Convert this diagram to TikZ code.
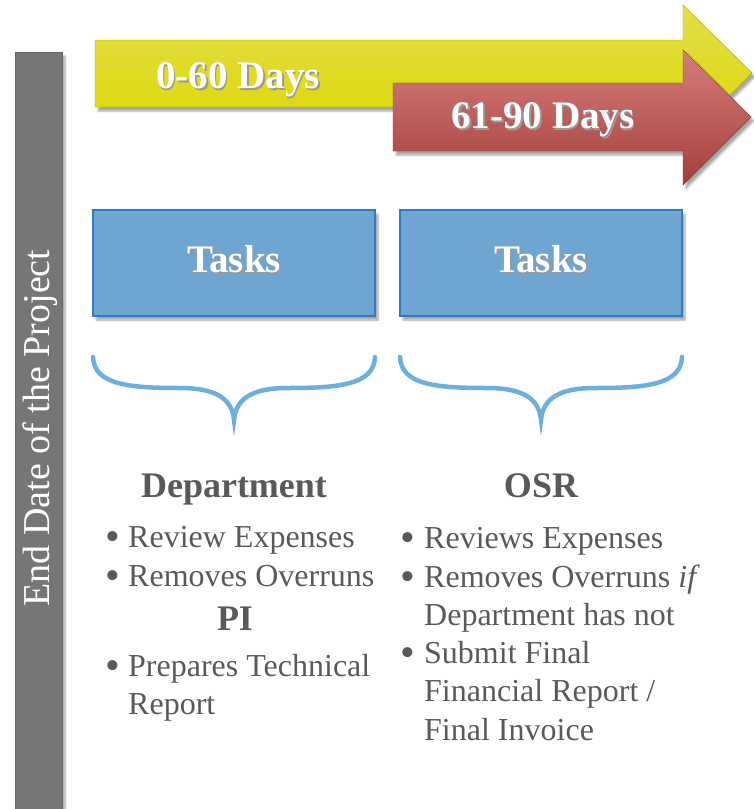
\documentclass[tikz,border=0pt]{standalone}
\usepackage{fontspec}
\setmainfont{Liberation Serif}
\usetikzlibrary{shadows.blur}

\definecolor{bargray}{HTML}{767676}
\definecolor{yellowtop}{HTML}{E3DE4A}
\definecolor{yellowbot}{HTML}{DCD800}
\definecolor{redtop}{HTML}{D57E7C}
\definecolor{redmid}{HTML}{C0504D}
\definecolor{redbot}{HTML}{A53E3B}
\definecolor{taskblue}{HTML}{6FA6D1}
\definecolor{taskedge}{HTML}{2E7DC4}
\definecolor{bracecol}{HTML}{6DAFDC}
\definecolor{textgray}{HTML}{595959}

% white label with a soft dark copy behind it
\newcommand\shtext[1]{\makebox[0pt][l]{\hspace{1.6pt}\raisebox{-1.6pt}{\textcolor{black!40}{#1}}}#1}

\tikzset{
  dropshadow/.style={blur shadow={shadow xshift=3pt,shadow yshift=-4pt,shadow blur steps=6,shadow opacity=35}},
  tasknode/.style={draw=taskedge,line width=1.2pt,fill=taskblue,minimum width=282pt,minimum height=106pt,dropshadow},
  whitelbl/.style={text=white,font=\fontsize{39}{39}\selectfont\bfseries},
  headlbl/.style={text=textgray,font=\fontsize{36}{36}\selectfont\bfseries,anchor=base},
  itemlbl/.style={text=textgray,font=\fontsize{32}{38.5}\selectfont,anchor=base west,inner sep=0pt},
  bulletlbl/.style={text=textgray,font=\fontsize{42}{42}\selectfont,anchor=base,inner sep=0pt},
  bracepath/.style={draw=bracecol,line width=4.5pt,line cap=round}
}

\begin{document}
\begin{tikzpicture}[x=1pt,y=-1pt]
\useasboundingbox (0,0) rectangle (754,809);

% left bar
\fill[bargray,draw=black!60,dropshadow] (15,52) rectangle (62,812);
\node[rotate=90,text=white,font=\fontsize{38}{38}\selectfont] (enddate) at (40,428) {End Date of the Project};

% period arrows
\shade[top color=yellowtop,bottom color=yellowbot,draw=yellowbot!80!black,dropshadow]
  (95,40) -- (683,40) -- (683,5) -- (752,73) -- (683,141) -- (683,107) -- (95,107) -- cycle;
\node[whitelbl] (first) at (238,81) {\shtext{0-60 Days}};

\shade[top color=redtop,middle color=redmid,bottom color=redbot,draw=redbot!85!black,dropshadow]
  (393,83) -- (683,83) -- (683,50) -- (751,117) -- (683,185) -- (683,151) -- (393,151) -- cycle;
\node[whitelbl] (second) at (543,121) {\shtext{61-90 Days}};

% task boxes
\node[tasknode] (taskA) at (234,263) {};
\node[tasknode] (taskB) at (541,263) {};
\node[whitelbl] (taskAlbl) at ([yshift=3pt]taskA.center) {\shtext{Tasks}};
\node[whitelbl] (taskBlbl) at ([yshift=3pt]taskB.center) {\shtext{Tasks}};

% braces under the boxes
\draw[bracepath] (93,357) .. controls (94,385) and (130,388) .. (180,388)
  .. controls (215,388) and (232,398) .. (234,420)
  .. controls (236,398) and (253,388) .. (288,388)
  .. controls (338,388) and (374,385) .. (375,357);
\draw[bracepath] (400,357) .. controls (401,385) and (437,388) .. (487,388)
  .. controls (522,388) and (539,398) .. (541,420)
  .. controls (543,398) and (560,388) .. (595,388)
  .. controls (645,388) and (681,385) .. (682,357);

% department and PI
\node[headlbl] (dept) at (234,497) {Department};
\node[bulletlbl] (bA1) at (113,550) {•};
\node[itemlbl] (iA1) at (128,547) {Review Expenses};
\node[bulletlbl] (bA2) at (113,589) {•};
\node[itemlbl] (iA2) at (128,586) {Removes Overruns};
\node[headlbl] (pi) at (235,630) {PI};
\node[bulletlbl] (bA3) at (113,679) {•};
\node[itemlbl] (iA3) at (128,676) {\parbox[t]{300pt}{Prepares Technical\\Report}};

% OSR
\node[headlbl] (osr) at (541,497) {OSR};
\node[bulletlbl] (bB1) at (408,551) {•};
\node[itemlbl] (iB1) at (424,548) {Reviews Expenses};
\node[bulletlbl] (bB2) at (408,590) {•};
\node[itemlbl] (iB2) at (424,587) {\parbox[t]{330pt}{Removes Overruns \textit{if}\\Department has not}};
\node[bulletlbl] (bB3) at (408,666) {•};
\node[itemlbl] (iB3) at (424,663) {\parbox[t]{330pt}{Submit Final\\Financial Report /\\Final Invoice}};
\end{tikzpicture}
\end{document}
